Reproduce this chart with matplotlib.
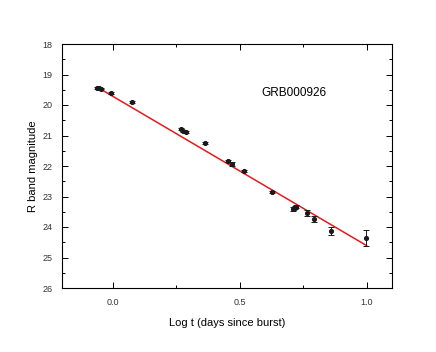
import matplotlib
matplotlib.use("Agg")
import matplotlib.pyplot as plt
from matplotlib.ticker import MultipleLocator

plt.rcParams['font.family'] = ['Liberation Sans', 'DejaVu Sans']

log_t = [-0.063, -0.055, -0.047, -0.008, 0.075, 0.267, 0.278, 0.290, 0.365,
         0.455, 0.471, 0.518, 0.627, 0.710, 0.716, 0.722, 0.765, 0.792, 0.859, 0.996]
r_mag = [19.43, 19.44, 19.46, 19.61, 19.90, 20.79, 20.85, 20.89, 21.25,
         21.84, 21.93, 22.16, 22.85, 23.40, 23.37, 23.33, 23.54, 23.74, 24.13, 24.36]
r_err = [0.03, 0.03, 0.03, 0.03, 0.03, 0.03, 0.03, 0.03, 0.03,
         0.03, 0.06, 0.03, 0.03, 0.06, 0.05, 0.05, 0.11, 0.11, 0.14, 0.26]

fit_x = [-0.06, 1.0]
fit_y = [19.42, 24.61]

fig = plt.figure(figsize=(4.36, 3.52), dpi=100)
ax = fig.add_axes([62/436, 1-288/352, (392-62)/436, (288-44)/352])

ax.errorbar(log_t, r_mag, yerr=r_err, fmt='o', color='#1a1a1a', ms=2.7,
            elinewidth=0.7, capsize=2, capthick=0.7, zorder=3)
ax.plot(fit_x, fit_y, color='#e8191e', lw=1.1, zorder=2)

ax.set_xlim(-0.2, 1.1)
ax.set_ylim(26, 18)
ax.xaxis.set_major_locator(MultipleLocator(0.5))
ax.xaxis.set_minor_locator(MultipleLocator(0.25))
ax.yaxis.set_major_locator(MultipleLocator(1))
ax.yaxis.set_minor_locator(MultipleLocator(0.5))
ax.set_xticks([0.0, 0.5, 1.0])
ax.set_xticklabels(['0.0', '0.5', '1.0'])
ax.tick_params(which='both', direction='in', top=True, right=True,
               labelsize=6.5, labelcolor='#333333', width=0.7)
ax.tick_params(which='major', length=4)
ax.tick_params(which='minor', length=2)
for s in ax.spines.values():
    s.set_linewidth(0.8)
ax.tick_params(axis='x', pad=7)
ax.tick_params(axis='y', pad=7)

ax.set_xlabel('Log t (days since burst)', fontsize=8, labelpad=8)
ax.set_ylabel('R band magnitude', fontsize=8, labelpad=3)
ax.text(0.714, 19.6, 'GRB000926', fontsize=8.5, ha='center', va='center')

fig.savefig('out.png', dpi=100)
